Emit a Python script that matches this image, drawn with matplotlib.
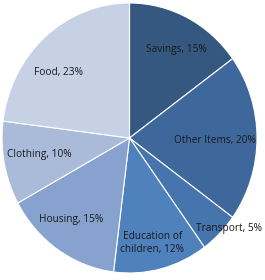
import matplotlib
matplotlib.use("Agg")
import matplotlib.pyplot as plt
import numpy as np

# data (clockwise from 12 o'clock)
categories = ["Savings", "Other Items", "Transport", "Education of\nchildren",
              "Housing", "Clothing", "Food"]
shares = [15, 20, 5, 12, 15, 10, 23]
colors = ["#34587f", "#3e689c", "#4674ad", "#4f81bd", "#88a2cf", "#aabad9", "#c6d1e5"]

# label placement: fraction of radius, and angle nudge in degrees
label_dist = [0.75, 0.67, 1.03, 0.80, 0.76, 0.72, 0.74]
label_nudge = [-2.6, -1.3, 4.3, -1.4, -2.8, -1.2, 7.4]

fig = plt.figure(figsize=(2.65, 2.8), dpi=100)
ax = fig.add_axes([2 / 265, 7 / 280, 255 / 265, 270 / 280])

wedges, _ = ax.pie(shares, colors=colors, startangle=90, counterclock=False,
                   wedgeprops=dict(edgecolor="white", linewidth=0.8))
ax.set_aspect("auto")
ax.set_xlim(-1, 1)
ax.set_ylim(-1, 1)

for w, name, val, d, nd in zip(wedges, categories, shares, label_dist, label_nudge):
    mid = np.deg2rad((w.theta1 + w.theta2) / 2 + nd)
    ax.text(d * np.cos(mid), d * np.sin(mid), f"{name}, {val}%",
            ha="center", va="center", fontsize=7.3, color="#1a1a1a",
            family="Open Sans", linespacing=1.2)

fig.savefig("out.png", dpi=100)
